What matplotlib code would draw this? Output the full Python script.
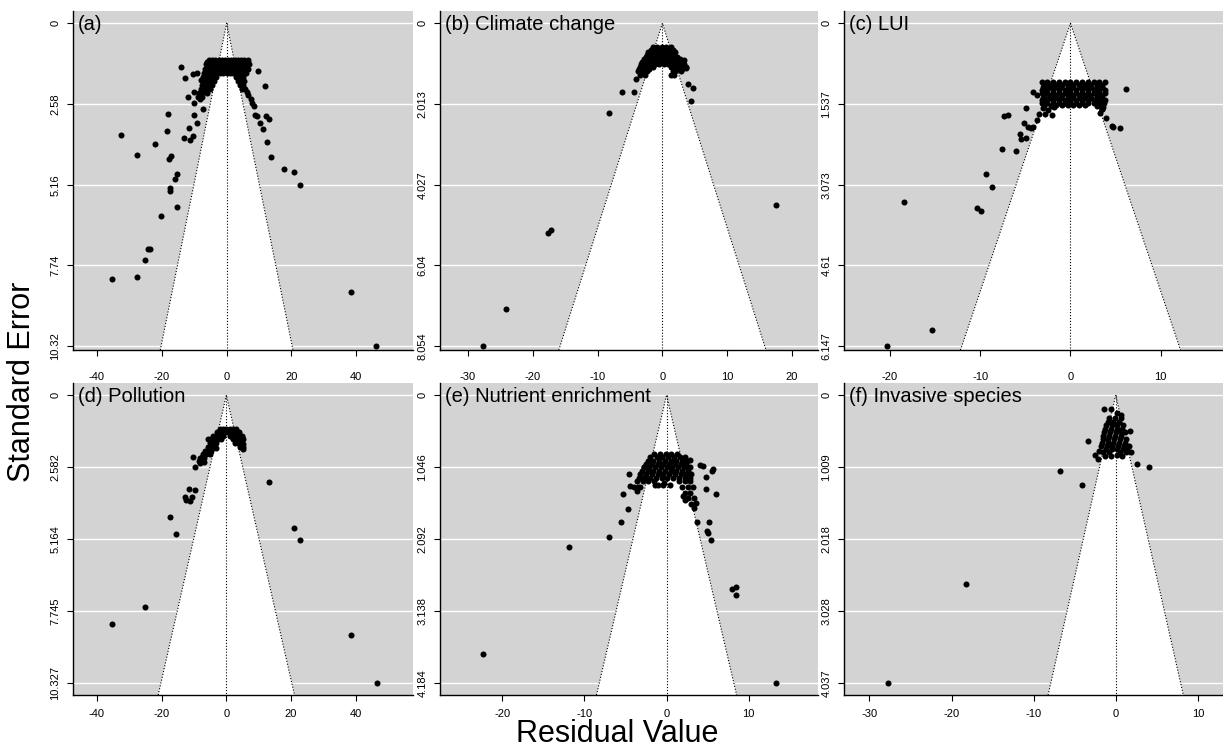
import matplotlib.pyplot as plt
import numpy as np

plt.rcParams['font.family'] = ['Liberation Sans', 'DejaVu Sans']

W, H = 1223, 749

#----------------------------------------------------------------------------------------#
# data: (residual, standard error)

titles = ['(a)', '(b) Climate change', '(c) LUI',
          '(d) Pollution', '(e) Nutrient enrichment', '(f) Invasive species']

se_max = [10.32, 8.054, 6.147, 10.327, 4.184, 4.037]

ytick_labels = [
    ['0', '2.58', '5.16', '7.74', '10.32'],
    ['0', '2.013', '4.027', '6.04', '8.054'],
    ['0', '1.537', '3.073', '4.61', '6.147'],
    ['0', '2.582', '5.164', '7.745', '10.327'],
    ['0', '1.046', '2.092', '3.138', '4.184'],
    ['0', '1.009', '2.018', '3.028', '4.037'],
]

xticks = [
    [-40, -20, 0, 20, 40],
    [-30, -20, -10, 0, 10, 20],
    [-20, -10, 0, 10],
    [-40, -20, 0, 20, 40],
    [-20, -10, 0, 10],
    [-30, -20, -10, 0, 10],
]

xlims = [(-47.4, 57.5), (-34.3, 24.0), (-25.1, 16.9),
         (-47.4, 57.7), (-27.6, 18.45), (-33.1, 13.07)]

pts_a = [
    (-14.1, 1.39), (9.8, 1.51), (-12.7, 1.76), (-10.3, 1.62), (-9.1, 1.58), (-7.8, 1.81),
    (11.9, 2.0), (-12.0, 2.37), (-10.0, 2.19), (-8.2, 2.43), (-10.0, 2.56), (-7.4, 2.75),
    (-10.0, 2.93), (-18.0, 2.91), (-9.1, 3.20), (-11.7, 3.36), (-10.5, 3.60), (-11.3, 3.74),
    (-13.1, 3.68), (-18.5, 3.44), (-32.6, 3.57), (-22.1, 3.87), (-27.6, 4.21), (-17.3, 4.24),
    (-17.7, 4.35), (-15.4, 4.83), (-15.8, 4.98), (-17.4, 5.28), (-17.6, 5.35), (-15.4, 5.86),
    (-20.2, 6.16), (-23.7, 7.20), (-24.2, 7.23), (-25.1, 7.56), (-35.3, 8.17), (-27.5, 8.11),
    (38.3, 8.58), (46.1, 10.32),
    (7.4, 2.43), (7.9, 2.56), (8.4, 2.64), (8.7, 2.93), (9.3, 2.96), (12.1, 2.96),
    (13.0, 3.07), (10.3, 3.19), (11.1, 3.39), (12.5, 3.80), (13.7, 4.28), (17.8, 4.66),
    (20.8, 4.75), (22.6, 5.17), (6.2, 2.19), (5.1, 2.05), (6.7, 2.29),
    # dense cluster
    (-5.5, 1.17), (-4.5, 1.17), (-3.5, 1.17), (-2.5, 1.17), (-1.5, 1.17), (-0.5, 1.17),
    (0.5, 1.17), (1.5, 1.17), (2.5, 1.17), (3.5, 1.17), (4.5, 1.17), (5.5, 1.17), (6.5, 1.17),
    (-6.0, 1.23), (-4.0, 1.23), (-2.0, 1.23), (0.0, 1.23), (2.0, 1.23), (4.0, 1.23), (6.0, 1.23),
    (-6.5, 1.3), (-5.0, 1.3), (-4.0, 1.3), (-3.0, 1.3), (-2.0, 1.3), (-1.0, 1.3), (0.0, 1.3),
    (1.0, 1.3), (2.0, 1.3), (3.0, 1.3), (4.0, 1.3), (5.0, 1.3), (6.0, 1.3), (7.0, 1.3),
    (-6.8, 1.45), (-5.5, 1.45), (-4.5, 1.45), (-3.5, 1.45), (-2.5, 1.45), (-1.5, 1.45),
    (-0.5, 1.45), (0.5, 1.45), (1.5, 1.45), (2.5, 1.45), (3.5, 1.45), (4.5, 1.45),
    (5.5, 1.45), (6.5, 1.45),
    (-7.0, 1.6), (-6.0, 1.6), (-5.0, 1.6), (-4.0, 1.6), (-3.0, 1.6), (-2.0, 1.6), (-1.0, 1.6),
    (0.0, 1.6), (1.0, 1.6), (2.0, 1.6), (3.0, 1.6), (4.0, 1.6), (5.0, 1.6), (6.0, 1.6),
    (-7.2, 1.72), (-6.2, 1.72), (-5.2, 1.72), (-4.2, 1.72), (-3.2, 1.72), (3.0, 1.72),
    (4.0, 1.72), (5.0, 1.72),
    (-7.0, 1.85), (-6.0, 1.85), (-5.0, 1.85), (-4.0, 1.85), (3.6, 1.85), (4.6, 1.85), (5.5, 1.85),
    (-7.5, 1.98), (-6.5, 1.98), (-5.5, 1.98), (-4.5, 1.98), (4.0, 1.98), (5.0, 1.98),
    (-8.0, 2.1), (-7.0, 2.1), (-6.0, 2.1), (-5.0, 2.1), (4.6, 2.1), (5.6, 2.1),
    (-8.5, 2.22), (-7.5, 2.22), (-6.2, 2.22), (-8.8, 2.35), (-7.5, 2.35),
]

pts_b = [
    (-8.2, 2.25), (-6.3, 1.72), (-4.4, 1.72), (-4.1, 1.39), (-17.2, 5.16), (-17.7, 5.24),
    (-24.1, 7.14), (-27.6, 8.05), (17.5, 4.53), (4.4, 1.95), (4.7, 1.61), (3.9, 1.51),
    (3.6, 1.12), (3.3, 0.92), (1.4, 1.29),
    # dense cluster
    (-1.5, 0.6), (-0.8, 0.6), (-0.1, 0.6), (0.6, 0.6), (1.3, 0.6),
    (-1.8, 0.66), (-1.1, 0.66), (-0.4, 0.66), (0.3, 0.66), (1.0, 0.66), (1.6, 0.66),
    (-2.2, 0.72), (-1.5, 0.72), (-0.8, 0.72), (-0.1, 0.72), (0.6, 0.72), (1.3, 0.72), (2.0, 0.72),
    (-2.4, 0.78), (-1.7, 0.78), (-1.0, 0.78), (-0.3, 0.78), (0.4, 0.78), (1.1, 0.78), (1.8, 0.78),
    (-2.6, 0.84), (-1.9, 0.84), (-1.2, 0.84), (-0.5, 0.84), (0.2, 0.84), (0.9, 0.84),
    (1.6, 0.84), (2.3, 0.84),
    (-2.9, 0.9), (-2.2, 0.9), (-1.5, 0.9), (-0.8, 0.9), (-0.1, 0.9), (0.6, 0.9), (1.3, 0.9),
    (2.0, 0.9), (2.7, 0.9),
    (-3.2, 0.96), (-2.5, 0.96), (-1.8, 0.96), (-1.1, 0.96), (-0.4, 0.96), (0.3, 0.96),
    (1.0, 0.96), (1.7, 0.96), (2.4, 0.96), (3.0, 0.96),
    (-3.3, 1.02), (-2.6, 1.02), (-1.9, 1.02), (-1.2, 1.02), (-0.5, 1.02), (0.2, 1.02),
    (0.8, 1.02), (1.2, 1.02), (1.9, 1.02), (2.6, 1.02), (3.3, 1.02),
    (-3.5, 1.08), (-2.8, 1.08), (-2.1, 1.08), (-1.4, 1.08), (1.4, 1.08), (2.1, 1.08),
    (2.8, 1.08), (3.6, 1.08),
    (-3.6, 1.14), (-2.9, 1.14), (-2.1, 1.14), (2.4, 1.14), (3.1, 1.14),
    (-3.8, 1.2), (-3.0, 1.2), (-2.3, 1.2), (2.0, 1.2), (2.8, 1.2), (1.6, 1.2),
    (-3.4, 1.3), (-2.7, 1.3), (1.8, 1.3),
]

pts_c = [
    (6.2, 1.26), (-18.5, 3.41), (-15.4, 5.84), (-20.3, 6.15), (-10.4, 3.52), (-9.9, 3.57),
    (-9.4, 2.87), (-8.7, 3.11), (-7.6, 2.39), (-6.0, 2.43), (-5.6, 2.11), (-5.5, 2.20),
    (-4.9, 2.19), (-5.1, 1.90), (-4.7, 1.97), (-4.4, 1.99), (-4.2, 1.97), (-3.7, 1.85),
    (-3.5, 1.73), (-7.4, 1.76), (-6.9, 1.75), (-4.9, 1.61), (-4.2, 1.30), (-3.7, 1.37),
    (-2.0, 1.75), (3.9, 1.80), (4.6, 1.95), (4.7, 1.97), (5.5, 1.99), (3.5, 1.64), (3.6, 1.59),
    # dense band
    (-3.2, 1.12), (-2.6, 1.12), (-1.9, 1.12), (-1.3, 1.12), (-0.6, 1.12), (0.0, 1.12),
    (0.6, 1.12), (1.3, 1.12), (1.9, 1.12), (2.6, 1.12), (3.2, 1.12), (3.8, 1.12),
    (-2.9, 1.17), (-2.2, 1.17), (-1.6, 1.17), (-0.9, 1.17), (-0.3, 1.17), (0.3, 1.17),
    (0.9, 1.17), (1.6, 1.17), (2.2, 1.17), (2.9, 1.17), (3.5, 1.17),
    (-3.0, 1.22), (-2.4, 1.22), (-1.7, 1.22), (-1.0, 1.22), (-0.3, 1.22), (0.3, 1.22),
    (1.0, 1.22), (1.6, 1.22), (2.3, 1.22), (2.9, 1.22), (3.5, 1.22),
    (-3.2, 1.27), (-2.6, 1.27), (-1.9, 1.27), (-1.3, 1.27), (-0.6, 1.27), (0.0, 1.27),
    (0.6, 1.27), (1.3, 1.27), (1.9, 1.27), (2.6, 1.27), (3.2, 1.27), (3.8, 1.27),
    (-3.2, 1.32), (-2.6, 1.32), (-1.9, 1.32), (-1.3, 1.32), (-0.6, 1.32), (0.0, 1.32),
    (0.6, 1.32), (1.3, 1.32), (1.9, 1.32), (2.6, 1.32), (3.2, 1.32), (3.8, 1.32),
    (-2.9, 1.37), (-2.2, 1.37), (-1.6, 1.37), (-0.9, 1.37), (-0.3, 1.37), (0.3, 1.37),
    (0.9, 1.37), (1.6, 1.37), (2.2, 1.37), (2.9, 1.37), (3.5, 1.37),
    (-3.0, 1.42), (-2.4, 1.42), (-1.7, 1.42), (-1.0, 1.42), (-0.3, 1.42), (0.3, 1.42),
    (1.0, 1.42), (1.6, 1.42), (2.3, 1.42), (2.9, 1.42), (3.5, 1.42),
    (-3.2, 1.47), (-2.6, 1.47), (-1.9, 1.47), (-1.3, 1.47), (-0.6, 1.47), (0.0, 1.47),
    (0.6, 1.47), (1.3, 1.47), (1.9, 1.47), (2.6, 1.47), (3.2, 1.47), (3.8, 1.47),
    (-3.2, 1.52), (-2.6, 1.52), (-1.9, 1.52), (-1.3, 1.52), (-0.6, 1.52), (0.0, 1.52),
    (0.6, 1.52), (1.3, 1.52), (1.9, 1.52), (2.6, 1.52), (3.2, 1.52), (3.7, 1.52),
    (-2.9, 1.57), (-2.2, 1.57), (-1.6, 1.56), (-0.9, 1.56), (-0.3, 1.55), (0.3, 1.55),
    (0.9, 1.56), (1.6, 1.56), (2.9, 1.57), (3.5, 1.57),
    (-3.0, 1.62), (-2.5, 1.66), (-1.8, 1.6), (3.5, 1.64), (3.3, 1.7), (-2.8, 1.72),
]

pts_d = [
    (-5.8, 1.58), (-10.3, 2.21), (-9.8, 2.58), (-7.6, 2.21), (-8.0, 2.42), (-7.0, 2.39),
    (-11.4, 3.37), (-9.6, 3.40), (-12.9, 3.67), (-12.5, 3.76), (-11.2, 3.79), (-10.6, 3.64),
    (-17.5, 4.36), (-15.6, 4.99), (13.1, 3.13), (21.0, 4.78), (22.9, 5.19), (-25.0, 7.58),
    (-35.2, 8.20), (38.6, 8.61), (46.5, 10.33), (4.8, 1.49), (5.1, 1.76), (5.1, 1.95),
    (-3.2, 1.91), (-6.0, 2.03),
    # dense cluster
    (-2.0, 1.2), (-1.0, 1.2), (0.0, 1.2), (1.0, 1.2), (2.0, 1.2), (3.0, 1.2),
    (-3.0, 1.32), (-2.0, 1.32), (-1.0, 1.32), (0.0, 1.32), (1.0, 1.32), (2.0, 1.32),
    (3.0, 1.32), (4.0, 1.32),
    (-4.0, 1.45), (-3.0, 1.45), (-2.0, 1.45), (-1.0, 1.45), (1.0, 1.45), (2.0, 1.45),
    (3.0, 1.45), (4.0, 1.45), (4.8, 1.45),
    (-4.6, 1.58), (-3.6, 1.58), (-2.6, 1.58), (-1.6, 1.58), (2.0, 1.58), (3.0, 1.58),
    (4.0, 1.58), (5.0, 1.58),
    (-5.2, 1.72), (-4.2, 1.72), (-3.2, 1.72), (2.8, 1.72), (3.8, 1.72), (4.8, 1.72),
    (-5.8, 1.85), (-4.8, 1.85), (-3.8, 1.85), (4.2, 1.85), (5.1, 1.85),
    (-6.6, 2.0), (-5.6, 2.0), (-4.6, 2.0), (-7.2, 2.12), (-6.2, 2.12), (-5.2, 2.12),
    (-8.0, 2.25), (-7.0, 2.25), (-8.6, 2.38), (-7.6, 2.38),
]

pts_e = [
    (-22.4, 3.76), (-11.9, 2.20), (-7.0, 2.06), (-5.6, 1.84), (-4.7, 1.66), (-5.3, 1.44),
    (-4.6, 1.15), (-4.4, 1.32), (-3.5, 1.34), (-3.6, 1.40), (-2.8, 1.05), (-2.6, 1.19),
    (13.3, 4.18), (8.0, 2.81), (8.5, 2.78), (8.5, 2.90), (5.4, 2.10), (4.9, 1.98),
    (5.0, 2.01), (5.2, 1.84), (3.7, 1.85), (3.3, 1.64), (3.6, 1.57), (6.0, 1.44),
    (4.8, 1.37), (5.6, 1.07), (5.5, 1.10), (4.4, 1.03), (4.1, 1.02), (4.8, 1.19),
    (2.8, 0.94), (2.4, 1.03), (2.2, 1.52), (2.0, 1.47), (-1.4, 1.31), (-0.4, 1.31),
    # dense cluster
    (-1.5, 0.85), (-0.8, 0.85), (-0.1, 0.85), (0.6, 0.85), (1.3, 0.85),
    (-2.0, 0.9), (-1.2, 0.9), (-0.5, 0.9), (0.2, 0.9), (0.9, 0.9), (1.6, 0.9), (2.2, 0.9),
    (-2.3, 0.95), (-1.6, 0.95), (-0.9, 0.95), (-0.2, 0.95), (0.5, 0.95), (1.2, 0.95),
    (1.9, 0.95), (2.5, 0.95),
    (-2.5, 1.0), (-1.8, 1.0), (-1.1, 1.0), (-0.4, 1.0), (0.3, 1.0), (1.0, 1.0), (1.7, 1.0),
    (2.4, 1.0),
    (-2.8, 1.05), (-2.1, 1.05), (-1.4, 1.05), (-0.7, 1.05), (0.0, 1.05), (0.7, 1.05),
    (1.4, 1.05), (2.1, 1.05), (2.8, 1.05),
    (-3.0, 1.1), (-2.3, 1.1), (-1.6, 1.1), (-0.9, 1.1), (-0.2, 1.1), (0.5, 1.1), (1.2, 1.1),
    (1.9, 1.1), (2.6, 1.1),
    (-3.2, 1.15), (-2.5, 1.15), (-1.8, 1.15), (-1.1, 1.15), (-0.4, 1.15), (0.3, 1.15),
    (1.0, 1.15), (1.7, 1.15), (2.4, 1.15), (3.0, 1.15),
    (-3.4, 1.2), (-2.7, 1.2), (-2.0, 1.2), (-1.3, 1.2), (-0.6, 1.2), (0.1, 1.2), (0.8, 1.2),
    (1.5, 1.2), (2.2, 1.2), (2.8, 1.2),
    (-3.6, 1.25), (-2.9, 1.25), (-2.2, 1.25), (-1.5, 1.25), (1.5, 1.25), (2.2, 1.25), (2.9, 1.25),
    (-4.0, 1.33), (-3.2, 1.33), (-1.0, 1.30), (-0.3, 1.28), (0.4, 1.30), (1.9, 1.33),
    (2.6, 1.33), (3.2, 1.33),
    (2.2, 1.42), (2.9, 1.42), (2.6, 1.5), (3.3, 1.5), (3.0, 1.58),
]

pts_f = [
    (-27.8, 4.04), (-18.2, 2.65), (-6.8, 1.06), (-4.1, 1.26), (-3.4, 0.64), (2.6, 0.97),
    (4.0, 1.01), (1.7, 0.50), (-1.4, 0.19), (-0.6, 0.19), (-2.5, 0.84), (-2.1, 0.89),
    (-2.0, 0.78),
    # dense column
    (0.2, 0.25), (0.6, 0.28),
    (-0.8, 0.32), (-0.1, 0.32), (0.6, 0.32),
    (-1.0, 0.37), (-0.3, 0.37), (0.4, 0.37),
    (-1.2, 0.42), (-0.5, 0.42), (0.2, 0.42), (0.9, 0.42),
    (-1.3, 0.47), (-0.6, 0.47), (0.1, 0.47), (0.8, 0.47),
    (-1.4, 0.52), (-0.7, 0.52), (0.0, 0.52), (0.7, 0.52), (1.1, 0.52),
    (-1.5, 0.57), (-0.8, 0.57), (-0.1, 0.57), (0.6, 0.57),
    (-1.6, 0.62), (-0.9, 0.62), (-0.2, 0.62), (0.5, 0.62), (1.2, 0.62),
    (-1.7, 0.67), (-1.0, 0.67), (-0.3, 0.67), (0.4, 0.67), (1.1, 0.67),
    (-1.8, 0.72), (-1.1, 0.72), (-0.4, 0.72), (0.3, 0.72), (1.0, 0.72), (1.6, 0.72),
    (-1.2, 0.76), (-0.5, 0.76), (0.2, 0.76), (0.9, 0.76), (1.4, 0.76),
    (-1.5, 0.8), (-0.8, 0.8), (0.5, 0.8), (1.2, 0.8), (1.9, 0.8),
    (-1.3, 0.86), (-0.6, 0.85), (0.2, 0.84), (0.8, 0.86),
]

points = [pts_a, pts_b, pts_c, pts_d, pts_e, pts_f]

#----------------------------------------------------------------------------------------#
# panel boxes in pixels (left, right, top, bottom) and y-range padding per row

col_px = [(73, 413), (440, 818), (844, 1223)]
row_px = [(11, 350), (383, 695)]
row_pad = [(0.038, 1.012), (0.042, 1.041)]
xlab_pad = [12.0, 6.0]

fig = plt.figure(figsize=(W / 100, H / 100), dpi=100)

for i in range(6):
    r, c = divmod(i, 3)
    left, right = col_px[c]
    top, bot = row_px[r]
    ax = fig.add_axes([left / W, 1 - bot / H, (right - left) / W, (bot - top) / H])
    ax.set_facecolor('#d3d3d3')

    smax = se_max[i]
    y_top = -row_pad[r][0] * smax
    y_bot = row_pad[r][1] * smax
    ax.set_xlim(*xlims[i])
    ax.set_ylim(y_bot, y_top)

    yt = [smax * k / 4 for k in range(5)]
    for t in yt:
        ax.axhline(t, color='white', lw=1.0, zorder=0.5)

    # funnel (1.96 * SE)
    half = 1.96 * y_bot
    ax.fill([-half, 0, half], [y_bot, 0, y_bot], color='white', zorder=0.6, lw=0)
    ax.plot([-half, 0, half], [y_bot, 0, y_bot], color='black', ls=':', lw=0.8, zorder=1)
    ax.plot([0, 0], [0, y_bot], color='black', ls=':', lw=0.8, zorder=1)

    xs = [p[0] for p in points[i]]
    ys = [p[1] for p in points[i]]
    ax.scatter(xs, ys, s=19, color='black', lw=0, zorder=3)

    ax.set_yticks(yt)
    ax.set_yticklabels(ytick_labels[i], rotation=90, va='center', fontsize=8)
    ax.set_xticks(xticks[i])
    ax.set_xticklabels([str(v) for v in xticks[i]], fontsize=8)
    ax.tick_params(axis='both', direction='out', length=4, width=0.8, colors='black')
    ax.tick_params(axis='y', pad=5)
    ax.tick_params(axis='x', pad=xlab_pad[r])

    for s in ['top', 'right']:
        ax.spines[s].set_visible(False)
    for s in ['left', 'bottom']:
        ax.spines[s].set_linewidth(1.0)

    fig.text((left + 5) / W, 1 - (top + 19) / H, titles[i], fontsize=14.5,
             ha='left', va='baseline')

fig.text(22 / W, 1 - 382 / H, 'Standard Error', rotation=90, fontsize=22,
         ha='center', va='center')
fig.text(617 / W, 1 - 742 / H, 'Residual Value', fontsize=22,
         ha='center', va='baseline')

plt.savefig('out.png', dpi=100)
